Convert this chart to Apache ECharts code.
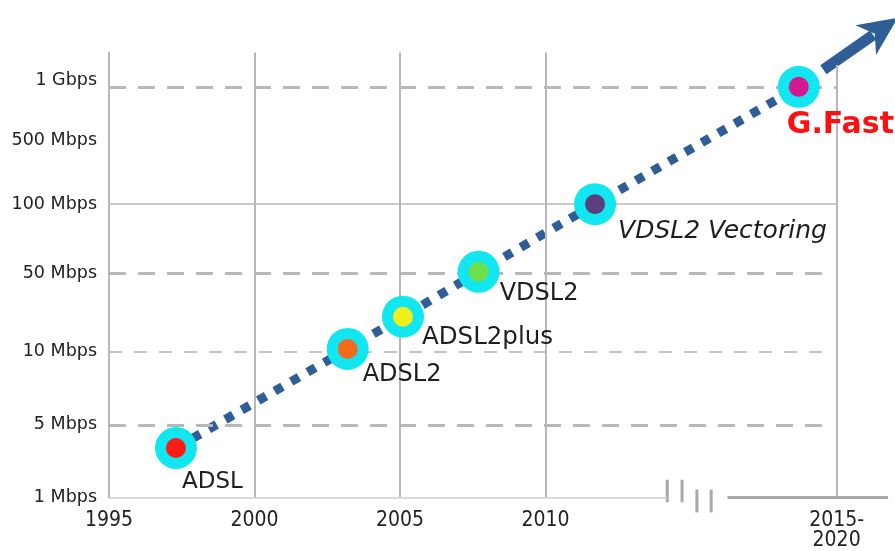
<!DOCTYPE html>
<html><head><meta charset="utf-8">
<script src="https://cdn.jsdelivr.net/npm/echarts@6/dist/echarts.min.js"></script>
<style>html,body{margin:0;padding:0;background:#fff}#c{width:895px;height:551px}</style>
</head><body><div id="c"></div>
<script>
// ---- data ----
const technologies = ['ADSL', 'ADSL2', 'ADSL2plus', 'VDSL2', 'VDSL2 Vectoring', 'G.Fast'];
const years = [1997.3, 2003.2, 2005.1, 2007.7, 2011.7, 2018.7];
const speedsMbps = [3, 10.5, 20.5, 51, 100, 1000];
const arrowTip = { year: 2022.1, mbps: 2450 };
const yTickMbps = [1, 5, 10, 50, 100, 500, 1000];
const yTickLabels = ['1 Mbps', '5 Mbps', '10 Mbps', '50 Mbps', '100 Mbps', '500 Mbps', '1 Gbps'];
const xTickYears = [1995, 2000, 2005, 2010, 2020];
const xTickLabels = ['1995', '2000', '2005', '2010', '2015-\n2020'];
const breakYears = [2014.18, 2014.69, 2015.2, 2015.69];

// ---- scale of the original (non-uniform vertical scale) ----
const yTickLevel = [0, 1.06, 2.136, 3.269, 4.286, 5.22, 6];
function level(mbps) {
  const L = Math.log10(mbps);
  const t = yTickMbps.map(Math.log10);
  let i = 0;
  while (i < t.length - 2 && L > t[i + 1]) i++;
  const f = (L - t[i]) / (t[i + 1] - t[i]);
  return yTickLevel[i] + f * (yTickLevel[i + 1] - yTickLevel[i]);
}

// ---- styles ----
const dotColors = ['#ff1a12', '#f26a1b', '#f2ee1e', '#6ee04c', '#5b3f7e', '#d6188e'];
const labelOffsets = [[6, 34], [15, 26], [19, 21], [21, 22], [23, 27], [-12, 38]];
const labelSizes = [23, 24, 24.5, 24, 25, 30];
const blue = '#2f5e96';
const grey = '#b8b8b8';
const thickDash = { color: grey, width: 3, type: [17, 12] };
const thinDash = { color: '#c4c4c4', width: 2, type: [13, 12] };
const solid = { color: grey, width: 2, type: 'solid' };

const pts = years.map((y, i) => [y, level(speedsMbps[i])]);
const yTop = 6.5;

function seg(a, b, style) {
  return [{ coord: a, lineStyle: style }, { coord: b }];
}
const gridLines = [
  seg([1995, level(1000)], [2020, level(1000)], thickDash),
  seg([1995, level(100)], [2020, level(100)], { color: grey, width: 1.5, type: 'solid' }),
  seg([1995, level(50)], [2019.8, level(50)], thickDash),
  seg([1995, level(10)], [2019.65, level(10)], thinDash),
  seg([1995, level(5)], [2019.8, level(5)], thickDash),
  seg([2000, 0], [2000, yTop], solid),
  seg([2005, 0], [2005, yTop], solid),
  seg([2010, 0], [2010, yTop], solid),
  seg([2020, 0], [2020, 6.32], solid),
  seg([1995, 0], [breakYears[0], 0], { color: '#cfcfcf', width: 1.5, type: 'solid' }),
  seg([2016.25, 0], [2021.77, 0], { color: '#a9a9a9', width: 3, type: 'solid' })
];

const chart = echarts.init(document.getElementById('c'));
chart.setOption({
  animation: false,
  backgroundColor: '#fff',
  grid: { left: 109, right: 6, top: 52.6, bottom: 51, containLabel: false },
  xAxis: {
    type: 'value', min: 1995, max: 2021.8,
    axisLine: { show: false }, axisTick: { show: false }, splitLine: { show: false },
    axisLabel: {
      customValues: xTickYears,
      formatter: v => xTickLabels[xTickYears.indexOf(v)] || '',
      fontFamily: '"Liberation Sans Narrow", "DejaVu Sans Condensed", sans-serif',
      fontSize: 21, lineHeight: 20, color: '#222', margin: 13
    }
  },
  yAxis: {
    type: 'value', min: 0, max: yTop,
    axisLine: { show: true, lineStyle: { color: grey, width: 2 } },
    axisTick: { show: false }, splitLine: { show: false },
    axisLabel: {
      customValues: yTickLevel,
      formatter: v => {
        let best = 0;
        yTickLevel.forEach((l, i) => { if (Math.abs(l - v) < Math.abs(yTickLevel[best] - v)) best = i; });
        return best === yTickLevel.length - 1 ? '{up|' + yTickLabels[best] + '}' : yTickLabels[best];
      },
      rich: { up: { fontFamily: '"DejaVu Sans", sans-serif', fontSize: 17.5, color: '#222', padding: [0, 0, 12, 0] } },
      fontFamily: '"DejaVu Sans", sans-serif', fontSize: 17.5, color: '#222', margin: 12
    }
  },
  series: [
    {
      type: 'line', data: [], clip: false, silent: true, z: 1,
      markLine: { silent: true, symbol: 'none', label: { show: false }, animation: false, data: gridLines }
    },
    {
      type: 'line', data: pts, clip: false, showSymbol: false, z: 3, silent: true,
      lineStyle: { color: blue, width: 9, type: [9, 10], cap: 'butt' }
    },
    {
      type: 'scatter', data: pts, symbolSize: 42, z: 5, silent: true,
      itemStyle: { color: '#12e6f0', opacity: 1 }
    },
    {
      type: 'scatter', z: 6, silent: true, symbolSize: 20,
      data: pts.map((p, i) => ({
        value: p,
        itemStyle: { color: dotColors[i], opacity: 1 },
        label: {
          show: true, position: 'inside', align: 'left', verticalAlign: 'middle',
          offset: labelOffsets[i],
          formatter: technologies[i],
          fontFamily: '"DejaVu Sans", sans-serif',
          fontSize: labelSizes[i],
          fontWeight: i === 5 ? 'bold' : 'normal',
          fontStyle: i === 4 ? 'italic' : 'normal',
          color: i === 5 ? '#ff1010' : '#1e1e1e'
        }
      }))
    }
  ]
});

// decorations placed through the chart's own scales: axis-break marks and trend arrow
const px = c => chart.convertToPixel({ gridIndex: 0 }, c);
const elements = [];
breakYears.forEach((yr, i) => {
  const hi = i < 2 ? 0.26 : 0.116, lo = i < 2 ? -0.07 : -0.218;
  const a = px([yr, hi]), b = px([yr, lo]);
  elements.push({ type: 'line', z: 2, shape: { x1: a[0], y1: a[1], x2: b[0], y2: b[1] },
    style: { stroke: '#a9a9a9', lineWidth: 3 } });
});
const s = px(pts[pts.length - 1]);
const t = px([arrowTip.year, level(arrowTip.mbps)]);
const dx = t[0] - s[0], dy = t[1] - s[1], len = Math.hypot(dx, dy);
const ux = dx / len, uy = dy / len, nx = -uy, ny = ux;
const headLen = 36, headHalf = 18;
const bx = t[0] - ux * headLen, by = t[1] - uy * headLen;
elements.push({ type: 'line', z: 4, shape: { x1: s[0] + ux * 30, y1: s[1] + uy * 30, x2: bx + ux * 6, y2: by + uy * 6 },
  style: { stroke: blue, lineWidth: 11 } });
elements.push({ type: 'polygon', z: 4, shape: { points: [
  [t[0], t[1]],
  [bx + nx * headHalf - ux * 3, by + ny * headHalf - uy * 3],
  [bx + ux * 8, by + uy * 8],
  [bx - nx * headHalf - ux * 3, by - ny * headHalf - uy * 3]
] }, style: { fill: blue } });
chart.setOption({ graphic: { elements } });
</script></body></html>
